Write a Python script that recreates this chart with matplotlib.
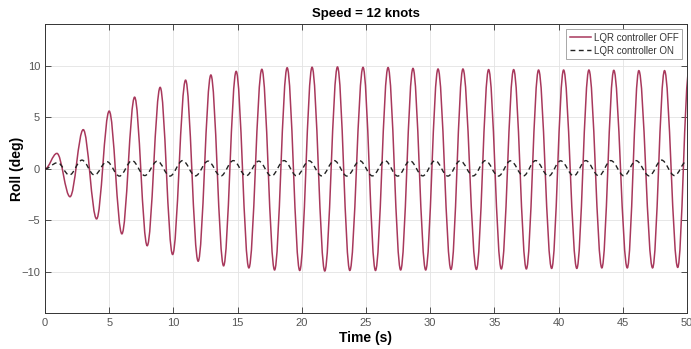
import numpy as np
import matplotlib
matplotlib.use("Agg")
import matplotlib.pyplot as plt
from matplotlib.path import Path
from matplotlib.patches import PathPatch
from matplotlib.lines import Line2D

plt.rcParams['font.family'] = ['Liberation Sans', 'DejaVu Sans']

# Roll response, LQR controller OFF: extrema (t in s, roll in deg)
off_peak_t = [0.93, 2.98, 5.00, 6.98, 8.97, 10.95, 12.92, 14.89, 16.89, 18.86,
              20.80, 22.78, 24.77, 26.72, 28.66, 30.61, 32.55, 34.55, 36.50, 38.44,
              40.39, 42.36, 44.30, 46.25, 48.25, 50.15]
off_peak_v = [1.5, 3.8, 5.6, 6.95, 7.9, 8.6, 9.1, 9.45, 9.65, 9.8,
              9.85, 9.88, 9.84, 9.82, 9.74, 9.68, 9.68, 9.62, 9.62, 9.58,
              9.58, 9.58, 9.55, 9.52, 9.52, 9.5]
off_trough_t = [1.95, 4.02, 5.99, 7.96, 9.94, 11.93, 13.91, 15.88, 17.88, 19.84,
                21.79, 23.74, 25.74, 27.70, 29.65, 31.62, 33.60, 35.54, 37.49, 39.46,
                41.42, 43.37, 45.35, 47.32, 49.28]
off_trough_v = [-2.7, -4.85, -6.3, -7.45, -8.3, -8.95, -9.4, -9.6, -9.8, -9.85,
                -9.9, -9.85, -9.85, -9.8, -9.8, -9.75, -9.75, -9.7, -9.7, -9.65,
                -9.65, -9.6, -9.6, -9.6, -9.55]

# Roll response, LQR controller ON
on_peak_t = [0.98, 2.88, 4.82, 6.78, 8.75, 10.72, 12.70, 14.67, 16.65, 18.62,
             20.57, 22.53, 24.52, 26.48, 28.43, 30.38, 32.33, 34.30, 36.26, 38.21,
             40.16, 42.12, 44.07, 46.03, 48.02, 49.98]
on_peak_v = [0.6, 0.85, 0.7, 0.8, 0.75, 0.8, 0.75, 0.8, 0.75, 0.8,
             0.78, 0.8, 0.78, 0.8, 0.78, 0.8, 0.78, 0.8, 0.78, 0.8,
             0.78, 0.8, 0.8, 0.8, 0.85, 0.75]
on_trough_t = [1.90, 3.85, 5.80, 7.77, 9.73, 11.71, 13.68, 15.66, 17.63, 19.60,
               21.55, 23.52, 25.50, 27.47, 29.42, 31.38, 33.35, 35.31, 37.26, 39.22,
               41.18, 43.13, 45.10, 47.06, 49.03]
on_trough_v = [-0.6, -0.6, -0.7, -0.65, -0.7, -0.68, -0.7, -0.68, -0.7, -0.68,
               -0.68, -0.7, -0.68, -0.7, -0.68, -0.7, -0.68, -0.7, -0.68, -0.7,
               -0.68, -0.68, -0.68, -0.68, -0.65]

x_ticks = [0, 5, 10, 15, 20, 25, 30, 35, 40, 45, 50]
y_ticks = [-10, -5, 0, 5, 10]


def extrema_path(peak_t, peak_v, trough_t, trough_v, k=0.364):
    # start at rest, then go through the extrema with flat tangents (cubic Bezier)
    t = np.concatenate([[0.0], peak_t, trough_t])
    v = np.concatenate([[0.0], peak_v, trough_v])
    order = np.argsort(t)
    t, v = t[order], v[order]
    verts = [(t[0], v[0])]
    codes = [Path.MOVETO]
    for i in range(len(t) - 1):
        dt = t[i + 1] - t[i]
        verts += [(t[i] + k * dt, v[i]), (t[i + 1] - k * dt, v[i + 1]), (t[i + 1], v[i + 1])]
        codes += [Path.CURVE4] * 3
    return Path(verts, codes)


off_color = '#A8385C'
on_style = (0, (3.5, 2.5))

fig = plt.figure(figsize=(6.91, 3.49), dpi=100)
ax = fig.add_axes([0.0651, 0.1023, 0.9291, 0.8277])

ax.add_patch(PathPatch(extrema_path(off_peak_t, off_peak_v, off_trough_t, off_trough_v),
                       facecolor='none', edgecolor=off_color, lw=1.1, zorder=3))
ax.add_patch(PathPatch(extrema_path(on_peak_t, on_peak_v, on_trough_t, on_trough_v),
                       facecolor='none', edgecolor='#222222', lw=1.0, linestyle=on_style, zorder=4))

ax.set_xlim(0, 50)
ax.set_ylim(-14, 14)
ax.set_xticks(x_ticks)
ax.set_yticks(y_ticks)
ax.grid(True, color='#e3e3e3', lw=0.6)
ax.set_axisbelow(True)
ax.tick_params(direction='in', top=True, right=True, length=4, width=0.6,
               labelsize=8, colors='#333333', labelcolor='#555555')
for s in ax.spines.values():
    s.set_color('#333333')
    s.set_linewidth(0.7)

ax.set_title('Speed = 12 knots', fontsize=9.5, fontweight='bold', pad=5)
ax.set_xlabel('Time (s)', fontsize=10, fontweight='bold', labelpad=2)
ax.set_ylabel('Roll (deg)', fontsize=10, fontweight='bold')
ax.yaxis.set_label_coords(-0.033, 0.5)

handles = [Line2D([], [], color=off_color, lw=1.1),
           Line2D([], [], color='#222222', lw=1.0, linestyle=on_style)]
leg = ax.legend(handles, ['LQR controller OFF', 'LQR controller ON'], loc='upper right',
                fontsize=7, fancybox=False, framealpha=1, edgecolor='#999999',
                handlelength=2.2, handletextpad=0.3, borderpad=0.35, labelspacing=0.3,
                borderaxespad=0.5)
leg.get_frame().set_linewidth(0.6)
for txt in leg.get_texts():
    txt.set_color('#333333')

fig.savefig('out.png', dpi=100)
